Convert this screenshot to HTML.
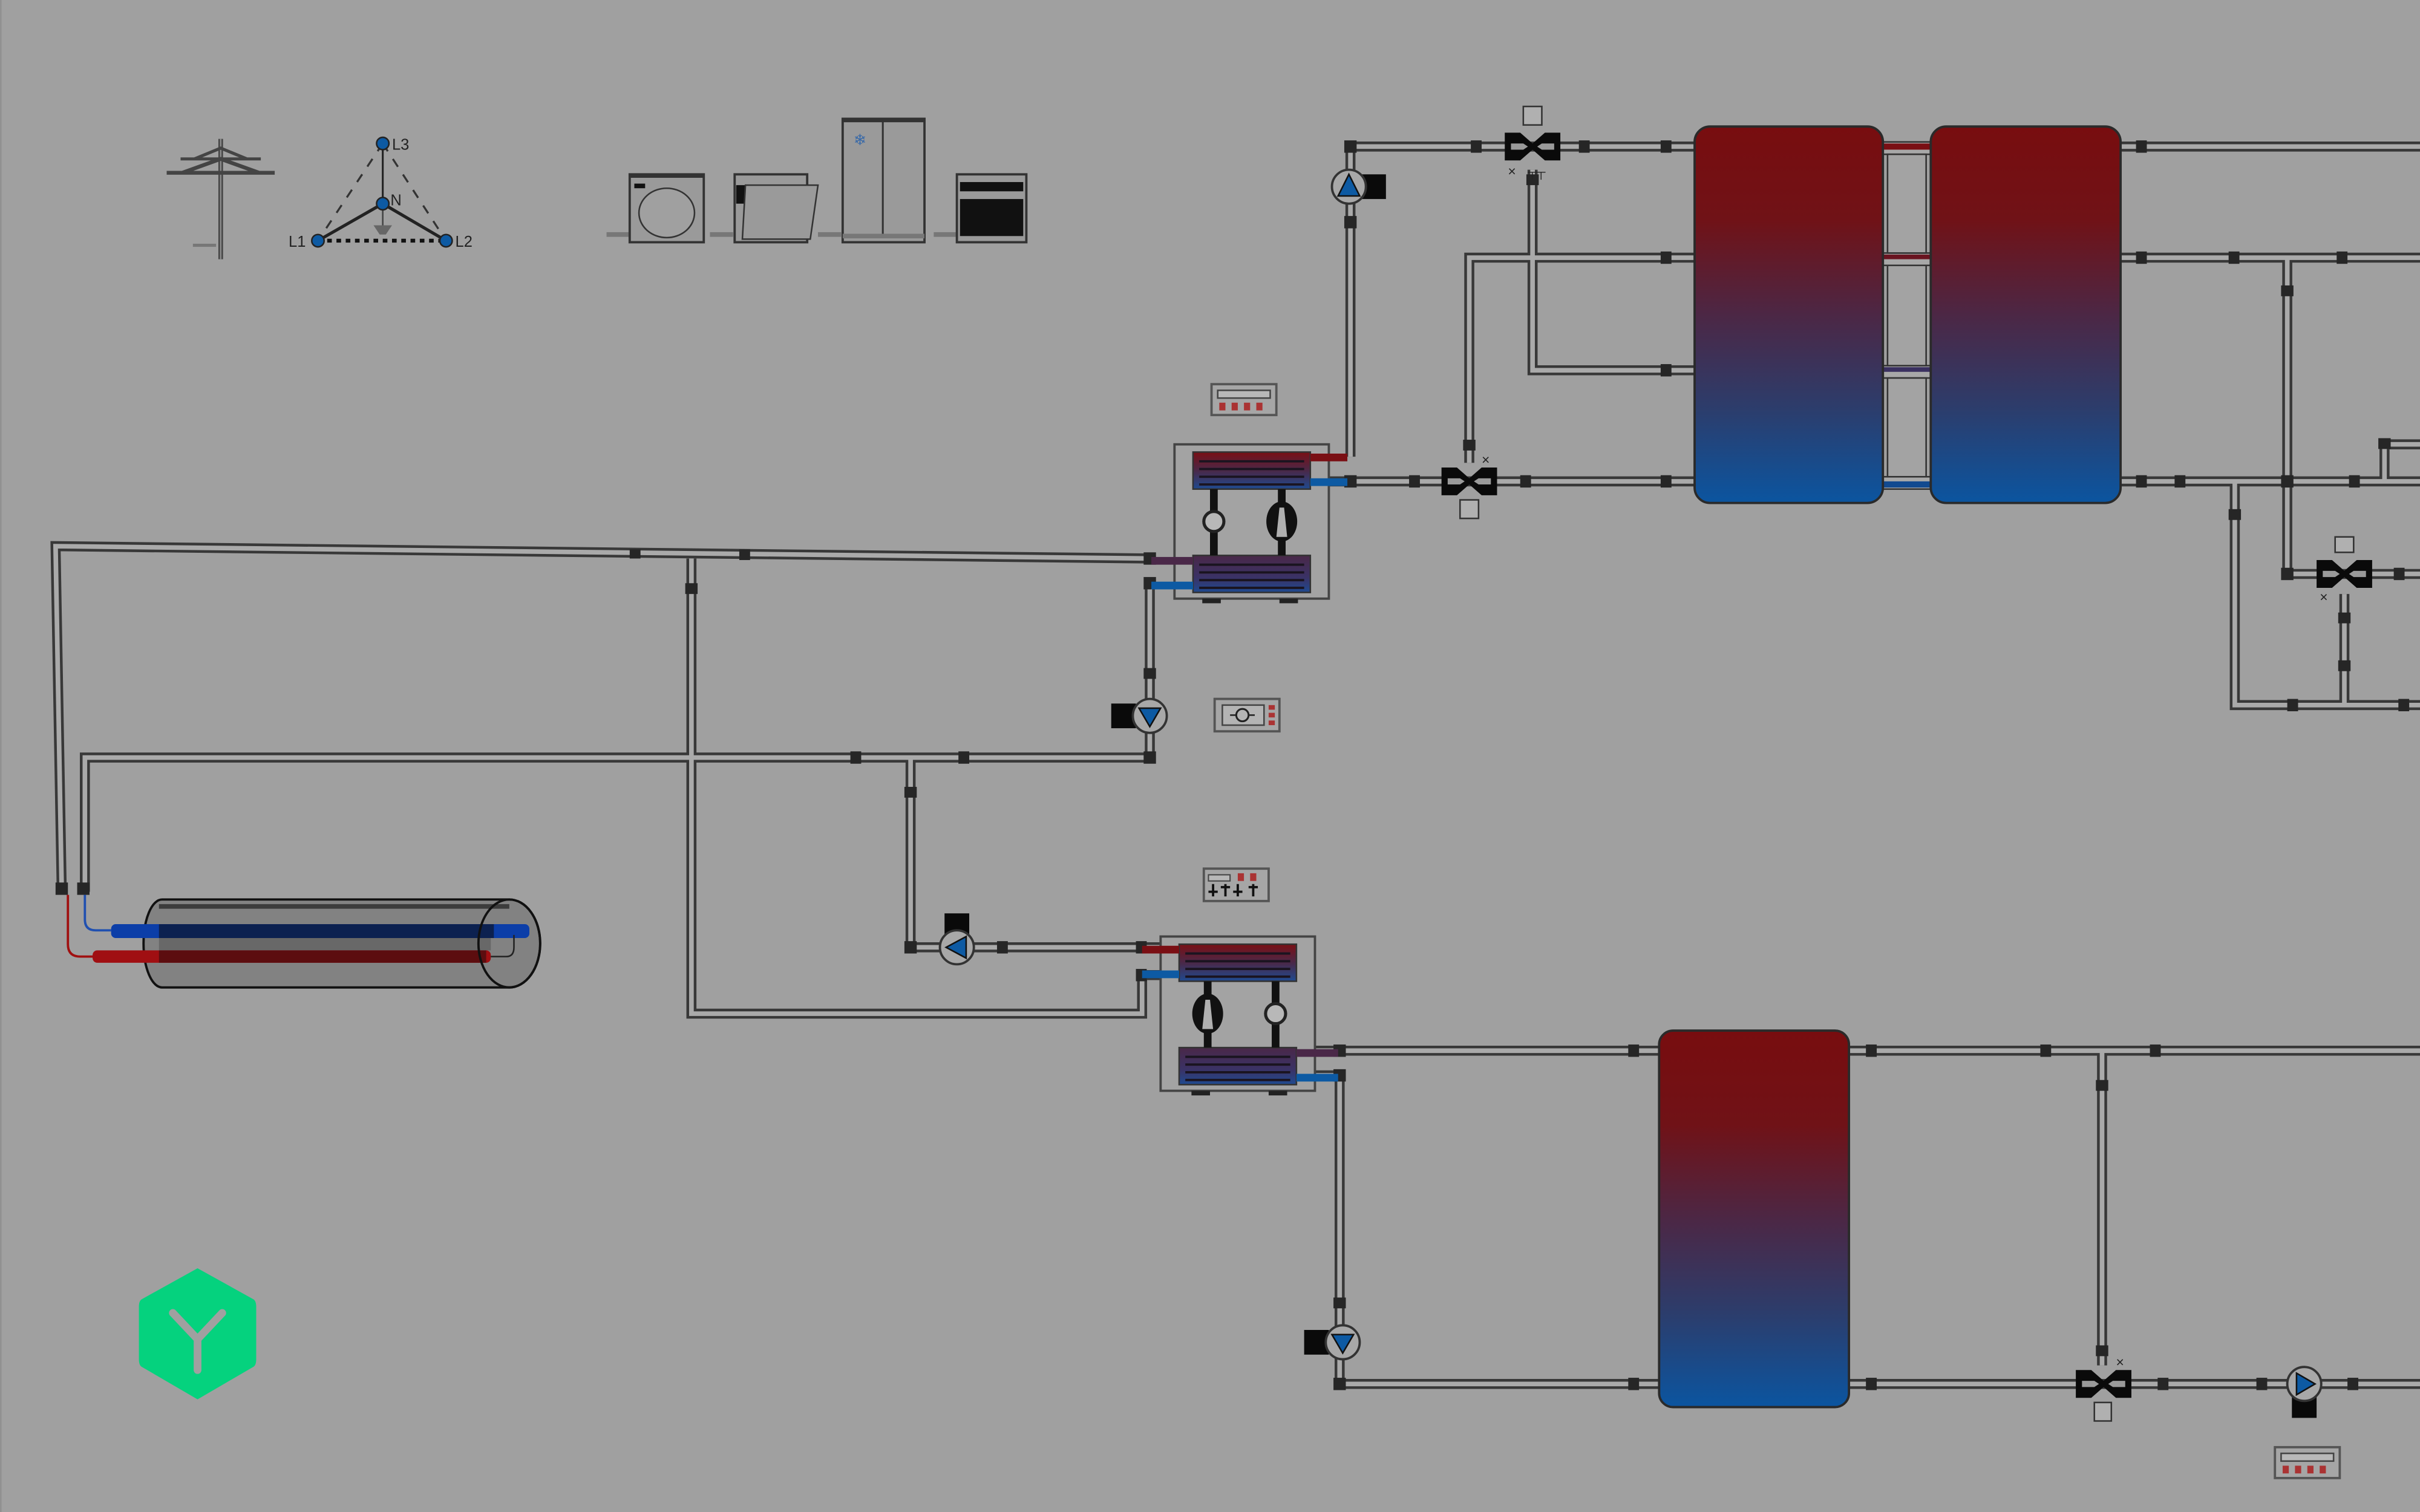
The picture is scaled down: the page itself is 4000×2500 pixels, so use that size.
<!DOCTYPE html>
<html><head><meta charset="utf-8"><style>
html,body{margin:0;padding:0;background:#a0a0a0;}
svg{display:block;}
</style></head><body>
<svg width="4000" height="2500" viewBox="0 0 1568 980" preserveAspectRatio="none" xmlns="http://www.w3.org/2000/svg">
<defs>
<linearGradient id="tg" x1="0" y1="0" x2="0" y2="1">
<stop offset="0" stop-color="#780d0f"/><stop offset="0.25" stop-color="#701217"/><stop offset="0.5" stop-color="#4c2745"/><stop offset="0.75" stop-color="#2c3d6c"/><stop offset="1" stop-color="#0b55a0"/>
</linearGradient>
<linearGradient id="hxa" x1="0" y1="0" x2="0" y2="1"><stop offset="0" stop-color="#7a0f14"/><stop offset="0.5" stop-color="#4a2848"/><stop offset="1" stop-color="#1f4a90"/></linearGradient>
<linearGradient id="hxb" x1="0" y1="0" x2="0" y2="1"><stop offset="0" stop-color="#4a2848"/><stop offset="0.6" stop-color="#3a3266"/><stop offset="1" stop-color="#1f4a90"/></linearGradient>
<g id="hp">
<rect x="0" y="0" width="100" height="100" fill="#a3a3a3" stroke="#444" stroke-width="1.5"/>
<rect x="12" y="5" width="76" height="24" fill="url(#hxa)" stroke="#333"/>
<g stroke="#1a1420" stroke-width="1.5"><line x1="16" y1="11" x2="84" y2="11"/><line x1="16" y1="16" x2="84" y2="16"/><line x1="16" y1="21" x2="84" y2="21"/><line x1="16" y1="26" x2="84" y2="26"/></g>
<rect x="12" y="72" width="76" height="24" fill="url(#hxb)" stroke="#333"/>
<g stroke="#1a1420" stroke-width="1.5"><line x1="16" y1="78" x2="84" y2="78"/><line x1="16" y1="83" x2="84" y2="83"/><line x1="16" y1="88" x2="84" y2="88"/><line x1="16" y1="93" x2="84" y2="93"/></g>
<rect x="23" y="29" width="5" height="43" fill="#111"/>
<rect x="67" y="29" width="5" height="43" fill="#111"/>
<circle cx="25.5" cy="50" r="6.5" fill="#b8b8b8" stroke="#222" stroke-width="2"/>
<ellipse cx="69.5" cy="50" rx="10" ry="13" fill="#111"/>
<path d="M66,60 L73,60 L71,41 L68,41 Z" fill="#b0b0b0"/>
<rect x="88" y="6" width="24" height="5" fill="#7a0f14"/>
<rect x="88" y="22" width="24" height="5" fill="#0d5aa3"/>
<rect x="-15" y="73" width="27" height="5" fill="#4a2848"/>
<rect x="-15" y="89" width="27" height="5" fill="#0d5aa3"/>
<rect x="18" y="100" width="12" height="3" fill="#222"/><rect x="68" y="100" width="12" height="3" fill="#222"/>
</g>
<g id="valve">
<path d="M-18,-9 H-8 L0,-2 L8,-9 H18 V9 H8 L0,2 L-8,9 H-18 Z" fill="#0a0a0a"/>
<path d="M-14,-2 H-6 L-3,0 L-6,2 H-14 Z M14,-2 H6 L3,0 L6,2 H14 Z" fill="#9a9a9a"/>
</g>
<g id="pump">
<circle cx="0" cy="0" r="11" fill="#a8a8a8" stroke="#333" stroke-width="1.5"/>
</g>
<g id="ctrl4">
<rect x="0" y="0" width="42" height="20" fill="#a6a6a6" stroke="#555" stroke-width="1.5"/>
<rect x="4" y="4" width="34" height="5" fill="#b8b8b8" stroke="#444"/>
<rect x="5" y="12" width="4" height="5" fill="#a33"/><rect x="13" y="12" width="4" height="5" fill="#a33"/><rect x="21" y="12" width="4" height="5" fill="#a33"/><rect x="29" y="12" width="4" height="5" fill="#a33"/>
</g>
</defs>

<rect width="1568" height="980" fill="#a0a0a0"/>
<line x1="0.5" y1="0" x2="0.5" y2="980" stroke="#909090"/>

<!-- pipes -->
<g id="pipes" fill="none">
<path id="pp" d="M875,296 V95 H1098 M993,110 V240 H1098 M1098,167 H952 V300 M860,312 H1098 M1374,95 H1568 M1374,167 H1568 M1482,167 V372 H1568 M1374,312 H1568 M1448,312 V457 H1568 M1519,385 V457 M1545,312 V288 H1568 M745,362 L36,354 L40,578 M448,362 V657 H740 V632 H753 M745,378 V491 H55 V578 M590,491 V614 H753 M852,681 H1075 M852,697 H868 V897 H1075 M1198,681 H1568 M1362,681 V885 M1198,897 H1568"/>
</g>
<use href="#pp" stroke="#383838" stroke-width="6.5" fill="none"/>
<use href="#pp" stroke="#aaaaaa" stroke-width="3" fill="none"/>

<!-- junction marks -->
<g fill="#262626">
<rect x="871" y="91" width="8" height="8"/><rect x="953" y="91" width="7" height="8"/><rect x="1023" y="91" width="7" height="8"/><rect x="1076" y="91" width="7" height="8"/>
<rect x="871" y="140" width="8" height="8"/><rect x="989" y="113" width="8" height="7"/>
<rect x="1076" y="163" width="7" height="8"/><rect x="1076" y="236" width="7" height="8"/>
<rect x="948" y="285" width="8" height="7"/><rect x="913" y="308" width="7" height="8"/><rect x="985" y="308" width="7" height="8"/><rect x="1076" y="308" width="7" height="8"/><rect x="871" y="308" width="8" height="8"/>
<rect x="1384" y="91" width="7" height="8"/><rect x="1384" y="163" width="7" height="8"/><rect x="1444" y="163" width="7" height="8"/><rect x="1514" y="163" width="7" height="8"/>
<rect x="1478" y="185" width="8" height="7"/><rect x="1384" y="308" width="7" height="8"/><rect x="1409" y="308" width="7" height="8"/><rect x="1478" y="308" width="8" height="8"/><rect x="1522" y="308" width="7" height="8"/>
<rect x="1444" y="330" width="8" height="7"/><rect x="1478" y="368" width="8" height="8"/><rect x="1551" y="368" width="7" height="8"/>
<rect x="1515" y="397" width="8" height="7"/><rect x="1515" y="428" width="8" height="7"/><rect x="1482" y="453" width="7" height="8"/><rect x="1554" y="453" width="7" height="8"/>
<rect x="1541" y="284" width="8" height="7"/>
<rect x="408" y="356" width="7" height="6"/><rect x="479" y="356" width="7" height="7"/><rect x="444" y="378" width="8" height="7"/><rect x="741" y="358" width="8" height="8"/>
<rect x="741" y="374" width="8" height="8"/><rect x="741" y="433" width="8" height="7"/><rect x="741" y="487" width="8" height="8"/>
<rect x="551" y="487" width="7" height="8"/><rect x="621" y="487" width="7" height="8"/><rect x="586" y="510" width="8" height="7"/>
<rect x="36" y="572" width="8" height="8"/><rect x="50" y="572" width="8" height="8"/>
<rect x="586" y="610" width="8" height="8"/><rect x="646" y="610" width="7" height="8"/><rect x="736" y="610" width="7" height="8"/>
<rect x="736" y="628" width="7" height="8"/>
<rect x="864" y="677" width="8" height="8"/><rect x="864" y="693" width="8" height="8"/><rect x="1055" y="677" width="7" height="8"/>
<rect x="864" y="841" width="8" height="7"/><rect x="864" y="893" width="8" height="8"/><rect x="1055" y="893" width="7" height="8"/>
<rect x="1209" y="677" width="7" height="8"/><rect x="1322" y="677" width="7" height="8"/><rect x="1393" y="677" width="7" height="8"/><rect x="1358" y="700" width="8" height="7"/>
<rect x="1209" y="893" width="7" height="8"/><rect x="1358" y="872" width="8" height="7"/><rect x="1398" y="893" width="7" height="8"/><rect x="1462" y="893" width="7" height="8"/><rect x="1521" y="893" width="7" height="8"/>
</g>

<!-- tank connectors -->
<g>
<rect x="1220" y="92" width="31" height="8" fill="#a8a8a8" stroke="#333"/><rect x="1220" y="93" width="31" height="4" fill="#7a0f14"/>
<rect x="1220" y="164" width="31" height="8" fill="#a8a8a8" stroke="#333"/><rect x="1220" y="165" width="31" height="3" fill="#6a1420"/>
<rect x="1220" y="237" width="31" height="8" fill="#a8a8a8" stroke="#333"/><rect x="1220" y="238" width="31" height="3" fill="#3a3060"/>
<rect x="1220" y="309" width="31" height="8" fill="#a8a8a8" stroke="#333"/><rect x="1220" y="312" width="31" height="4" fill="#124a90"/>
<rect x="1223" y="100" width="25" height="64" fill="#a3a3a3" stroke="#333"/>
<rect x="1223" y="172" width="25" height="65" fill="#a3a3a3" stroke="#333"/>
<rect x="1223" y="245" width="25" height="64" fill="#a3a3a3" stroke="#333"/>
</g>
<!-- tanks -->
<rect x="1098" y="82" width="122" height="244" rx="10" fill="url(#tg)" stroke="#2a2a2a" stroke-width="1.5"/>
<rect x="1251" y="82" width="123" height="244" rx="10" fill="url(#tg)" stroke="#2a2a2a" stroke-width="1.5"/>
<rect x="1075" y="668" width="123" height="244" rx="9" fill="url(#tg)" stroke="#2a2a2a" stroke-width="1.5"/>

<!-- heat pumps -->
<use href="#hp" transform="translate(761,288)"/>
<use href="#hp" transform="translate(852,607) scale(-1,1)"/>

<!-- valves -->
<g transform="translate(993,95)"><use href="#valve"/><rect x="-6" y="-26" width="12" height="12" fill="#b0b0b0" stroke="#333"/><text x="-16" y="19" font-family="Liberation Sans, sans-serif" font-size="9" fill="#222">×</text><text x="-3" y="19" font-family="Liberation Sans, sans-serif" font-size="8" fill="#222">┬┬</text></g>
<g transform="translate(952,312)"><use href="#valve"/><rect x="-6" y="12" width="12" height="12" fill="#b0b0b0" stroke="#333"/><text x="8" y="-11" font-family="Liberation Sans, sans-serif" font-size="9" fill="#222">×</text></g>
<g transform="translate(1519,372)"><use href="#valve"/><rect x="-6" y="-24" width="12" height="10" fill="#b0b0b0" stroke="#333"/><text x="-16" y="18" font-family="Liberation Sans, sans-serif" font-size="9" fill="#222">×</text></g>
<g transform="translate(1363,897)"><use href="#valve"/><rect x="-6" y="12" width="11" height="12" fill="#b0b0b0" stroke="#333"/><text x="8" y="-11" font-family="Liberation Sans, sans-serif" font-size="9" fill="#222">×</text></g>

<!-- pumps -->
<g transform="translate(874,121)"><rect x="8" y="-8" width="16" height="16" fill="#0a0a0a"/><use href="#pump"/><path d="M-7,6 L7,6 L0,-8 Z" fill="#0d5aa3" stroke="#111"/></g>
<g transform="translate(745,464)"><rect x="-25" y="-8" width="16" height="16" fill="#0a0a0a"/><use href="#pump"/><path d="M-7,-5 L7,-5 L0,7 Z" fill="#0d5aa3" stroke="#111"/></g>
<g transform="translate(620,614)"><rect x="-8" y="-22" width="16" height="14" fill="#0a0a0a"/><use href="#pump"/><path d="M6,-7 L6,7 L-7,0 Z" fill="#0d5aa3" stroke="#111"/></g>
<g transform="translate(870,870)"><rect x="-25" y="-8" width="16" height="16" fill="#0a0a0a"/><use href="#pump"/><path d="M-7,-5 L7,-5 L0,7 Z" fill="#0d5aa3" stroke="#111"/></g>
<g transform="translate(1493,897)"><rect x="-8" y="8" width="16" height="14" fill="#0a0a0a"/><use href="#pump"/><path d="M-5,-7 L-5,7 L7,0 Z" fill="#0d5aa3" stroke="#111"/></g>

<!-- controllers -->
<use href="#ctrl4" transform="translate(785,249)"/>
<use href="#ctrl4" transform="translate(1474,938)"/>
<g transform="translate(787,453)"><rect x="0" y="0" width="42" height="21" fill="#a6a6a6" stroke="#555" stroke-width="1.5"/><rect x="5" y="4" width="27" height="13" fill="#b4b4b4" stroke="#444"/><circle cx="18" cy="10.5" r="4" fill="none" stroke="#222" stroke-width="1.2"/><line x1="10" y1="10.5" x2="14" y2="10.5" stroke="#222"/><line x1="22" y1="10.5" x2="26" y2="10.5" stroke="#222"/><rect x="35" y="4" width="4" height="3" fill="#a33"/><rect x="35" y="9" width="4" height="3" fill="#a33"/><rect x="35" y="14" width="4" height="3" fill="#a33"/></g>
<g transform="translate(780,563)"><rect x="0" y="0" width="42" height="21" fill="#a6a6a6" stroke="#555" stroke-width="1.5"/><rect x="3" y="4" width="14" height="4" fill="#b8b8b8" stroke="#444" stroke-width="0.8"/><rect x="22" y="3" width="4" height="5" fill="#a33"/><rect x="30" y="3" width="4" height="5" fill="#a33"/><g stroke="#111" stroke-width="1.5"><line x1="6" y1="10" x2="6" y2="18"/><line x1="14" y1="10" x2="14" y2="18"/><line x1="22" y1="10" x2="22" y2="18"/><line x1="32" y1="10" x2="32" y2="18"/><line x1="3" y1="15" x2="9" y2="15"/><line x1="11" y1="12" x2="17" y2="12"/><line x1="19" y1="15" x2="25" y2="15"/><line x1="29" y1="12" x2="35" y2="12"/></g></g>

<!-- DHW cylinder -->
<g>
<path d="M44,580 V612 Q44,620 52,620 H62" fill="none" stroke="#a01010" stroke-width="1.5"/>
<path d="M55,580 V596 Q55,603 62,603 H72" fill="none" stroke="#2050b0" stroke-width="1.5"/>
<path d="M105,583 H330 A20,28.5 0 0 1 330,640 H105 A12,28.5 0 0 1 105,583 Z" fill="#828282" stroke="#111" stroke-width="1.5"/>
<rect x="103" y="586" width="227" height="3" fill="#3c3c3c"/>
<rect x="103" y="606" width="215" height="10" fill="#686868"/>
<rect x="72" y="599" width="271" height="9" rx="3" fill="#0c3ea8"/>
<rect x="103" y="599" width="217" height="9" fill="#0c2150"/>
<rect x="60" y="616" width="258" height="8" rx="3" fill="#a00f12"/>
<rect x="103" y="616" width="212" height="8" fill="#5c0d0f"/>
<ellipse cx="330" cy="611.5" rx="20" ry="28.5" fill="none" stroke="#111" stroke-width="1.5"/>
<path d="M318,620 H328 Q333,620 333,614 V606" fill="none" stroke="#222" stroke-width="1"/>
</g>

<!-- pylon -->
<g stroke="#444" fill="none">
<line x1="143" y1="90" x2="143" y2="168" stroke-width="3"/>
<line x1="143" y1="90" x2="143" y2="168" stroke="#8a8a8a" stroke-width="1"/>
<path d="M117,103 H169 M126,103 L143,96 L160,103" stroke-width="2"/>
<path d="M108,112 H178 M118,112 L143,103 L168,112" stroke-width="2.5"/>
<line x1="125" y1="159" x2="140" y2="159" stroke="#777" stroke-width="2"/>
</g>
<!-- 3-phase -->
<g>
<path d="M248,93 L206,156 M248,93 L289,156" stroke="#333" stroke-width="1.3" stroke-dasharray="6,6" fill="none"/>
<line x1="206" y1="156" x2="289" y2="156" stroke="#111" stroke-width="2.5" stroke-dasharray="3,3"/>
<line x1="248" y1="93" x2="248" y2="132" stroke="#222" stroke-width="1.2"/>
<path d="M206,156 L248,132 L289,156" stroke="#222" stroke-width="2" fill="none"/>
<line x1="248" y1="132" x2="248" y2="150" stroke="#444" stroke-width="1"/>
<path d="M242,146 H254 L250,152 H246 Z" fill="#666"/>
<ellipse cx="248" cy="93" rx="4" ry="4" fill="#0d5aa3" stroke="#222"/>
<ellipse cx="248" cy="132" rx="4" ry="4" fill="#0d5aa3" stroke="#222"/>
<ellipse cx="206" cy="156" rx="4" ry="4" fill="#0d5aa3" stroke="#222"/>
<ellipse cx="289" cy="156" rx="4" ry="4" fill="#0d5aa3" stroke="#222"/>
<g font-family="Liberation Sans, sans-serif" font-size="10" fill="#222">
<text x="254" y="97">L3</text><text x="253" y="133">N</text><text x="187" y="160">L1</text><text x="295" y="160">L2</text>
</g>
</g>
<!-- appliances -->
<g stroke="#333">
<line x1="393" y1="152" x2="408" y2="152" stroke="#777" stroke-width="3"/>
<line x1="460" y1="152" x2="475" y2="152" stroke="#777" stroke-width="3"/>
<line x1="530" y1="152" x2="545" y2="152" stroke="#777" stroke-width="3"/>
<line x1="605" y1="152" x2="620" y2="152" stroke="#777" stroke-width="3"/>
<rect x="408" y="113" width="48" height="44" fill="#9a9a9a" stroke-width="1.5"/>
<line x1="408" y1="114" x2="456" y2="114" stroke-width="2.5"/>
<rect x="411" y="119" width="7" height="3" fill="#111" stroke="none"/>
<ellipse cx="432" cy="138" rx="18" ry="16" fill="#a0a0a0" stroke-width="1"/>
<rect x="476" y="113" width="47" height="44" fill="#9a9a9a" stroke-width="1.5"/>
<rect x="477" y="120" width="45" height="12" fill="#111" stroke="none"/>
<path d="M481,155 L483,120 L530,120 L525,155 Z" fill="#9a9a9a" stroke-width="1"/>
<rect x="546" y="77" width="53" height="80" fill="#9a9a9a" stroke-width="1.5"/>
<line x1="572" y1="78" x2="572" y2="153" stroke-width="1.2"/>
<line x1="546" y1="78" x2="599" y2="78" stroke-width="2.5"/>
<line x1="546" y1="153" x2="599" y2="153" stroke="#777" stroke-width="3"/>
<text x="553" y="94" font-family="DejaVu Sans, sans-serif" font-size="10" fill="#3a6aa8" stroke="none">❄</text>
<rect x="620" y="113" width="45" height="44" fill="#9a9a9a" stroke-width="1.5"/>
<rect x="622" y="118" width="41" height="6" fill="#111" stroke="none"/>
<rect x="622" y="129" width="41" height="24" fill="#111" stroke="none"/>
</g>

<!-- logo -->
<path d="M128,822 L164,842 Q166,843 166,847 V881 Q166,885 164,886 L128,907 L92,886 Q90,885 90,881 V847 Q90,843 92,842 Z" fill="#05d27e"/>
<path d="M112,851 L128,868 L144,851 M128,868 V888" fill="none" stroke="#a0a0a0" stroke-width="5" stroke-linecap="round" stroke-linejoin="round"/>
</svg>
</body></html>
